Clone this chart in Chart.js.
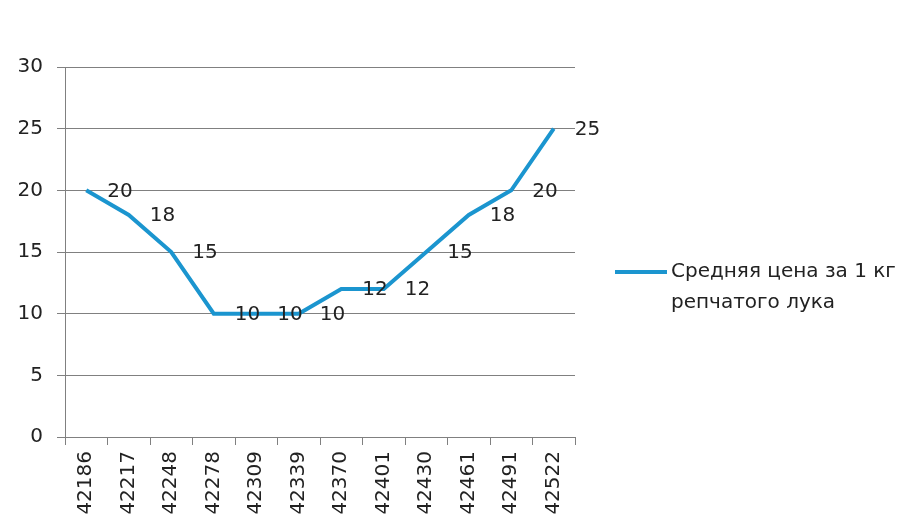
<!DOCTYPE html>
<html>
<head>
<meta charset="utf-8">
<script src="https://cdn.jsdelivr.net/npm/chart.js@4/dist/chart.umd.min.js"></script>
<style>
  html, body { margin: 0; padding: 0; background: #fff; }
  #wrap { width: 899px; height: 526px; position: relative; }
</style>
</head>
<body>
<div id="wrap"><canvas id="chart"></canvas></div>
<script>
// данные графика
const categories = ["42186", "42217", "42248", "42278", "42309", "42339", "42370", "42401", "42430", "42461", "42491", "42522"];
const prices = [20, 18, 15, 10, 10, 10, 12, 12, 15, 18, 20, 25];
const seriesName = ["Средняя цена за 1 кг", "репчатого лука"];
const yMin = 0, yMax = 30, yStep = 5;

const lineColor = "#1b95cf";
const fontFamily = "'DejaVu Sans', sans-serif";

// подписи значений справа от точек
const valueLabels = {
  id: "valueLabels",
  afterDatasetsDraw(chart) {
    const ctx = chart.ctx;
    const meta = chart.getDatasetMeta(0);
    ctx.save();
    ctx.font = "20px " + fontFamily;
    ctx.fillStyle = "#222";
    ctx.textAlign = "left";
    ctx.textBaseline = "middle";
    meta.data.forEach((pt, i) => {
      ctx.fillText(String(prices[i]), pt.x + 21, pt.y + 1);
    });
    ctx.restore();
  }
};

// легенда справа, в две строки
const sideLegend = {
  id: "sideLegend",
  afterDraw(chart) {
    const ctx = chart.ctx;
    const x = chart.chartArea.right + 40;
    const y = 272;
    ctx.save();
    ctx.strokeStyle = lineColor;
    ctx.lineWidth = 4;
    ctx.beginPath();
    ctx.moveTo(x, y);
    ctx.lineTo(x + 52, y);
    ctx.stroke();
    ctx.font = "20px " + fontFamily;
    ctx.fillStyle = "#222";
    ctx.textBaseline = "middle";
    ctx.fillText(seriesName[0], x + 56, y);
    ctx.fillText(seriesName[1], x + 56, y + 31);
    ctx.restore();
  }
};

new Chart(document.getElementById("chart"), {
  type: "line",
  data: {
    labels: categories,
    datasets: [{
      label: seriesName.join(" "),
      data: prices,
      borderColor: lineColor,
      borderWidth: 4,
      pointRadius: 0,
      tension: 0,
      fill: false
    }]
  },
  options: {
    responsive: true,
    maintainAspectRatio: false,
    animation: false,
    layout: { padding: { top: 67, right: 324, left: 0, bottom: 0 } },
    plugins: {
      legend: { display: false },
      tooltip: { enabled: false }
    },
    scales: {
      x: {
        offset: true,
        grid: { drawOnChartArea: false, offset: true, tickLength: 8, color: "#808080" },
        border: { color: "#808080" },
        ticks: {
          minRotation: 90,
          maxRotation: 90,
          autoSkip: false,
          padding: 6,
          color: "#222",
          font: { family: fontFamily, size: 20 }
        },
        afterFit(scale) { scale.height = 89; }
      },
      y: {
        min: yMin,
        max: yMax,
        ticks: {
          stepSize: yStep,
          padding: 14,
          color: "#222",
          font: { family: fontFamily, size: 20 }
        },
        grid: { color: "#808080", tickLength: 8 },
        border: { color: "#808080" },
        afterFit(scale) { scale.width = 65; }
      }
    }
  },
  plugins: [valueLabels, sideLegend]
});
</script>
</body>
</html>
